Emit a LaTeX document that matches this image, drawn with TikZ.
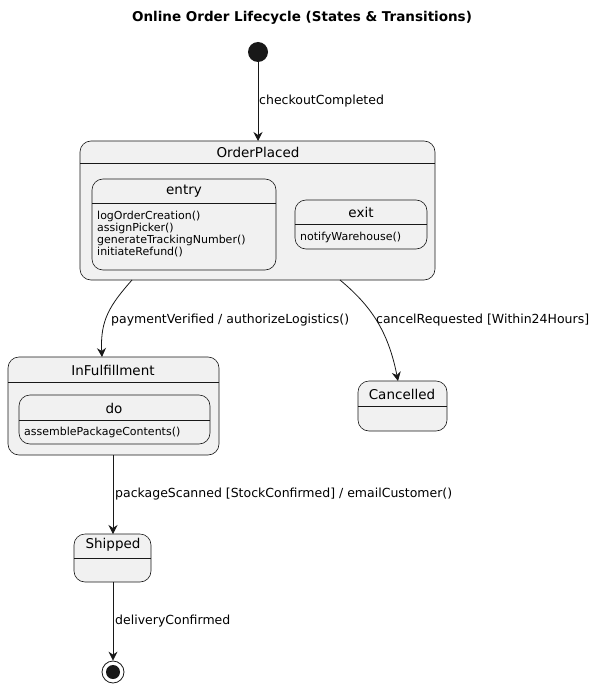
\documentclass[tikz,border=0pt]{standalone}
\usepackage{fontspec}
\setmainfont{DejaVu Sans}
\usetikzlibrary{arrows.meta}
\definecolor{bg}{HTML}{F1F1F1}
\definecolor{ln}{HTML}{181818}
\begin{document}
\begin{tikzpicture}[x=1pt,y=-1pt,
  st/.style={draw=ln,fill=bg,rounded corners=11pt,line width=0.6pt},
  sep/.style={draw=ln,line width=0.5pt},
  ttl/.style={font=\fontsize{13.5}{15}\selectfont,inner sep=0pt},
  sm/.style={font=\fontsize{11}{12.5}\selectfont,inner sep=0pt,anchor=west},
  lbl/.style={font=\fontsize{12.5}{14}\selectfont,inner sep=0pt,anchor=west},
  arr/.style={draw=ln,line width=0.8pt,-{Stealth[length=9pt,width=9pt,inset=3pt]}}]
\path[use as bounding box] (0,0) rectangle (605,687);
\node[font=\bfseries\fontsize{13.5}{15}\selectfont] (title) at (302,18) {Online Order Lifecycle (States \& Transitions)};
\node[circle,fill=ln,minimum size=20pt,inner sep=0pt] (start) at (258,52) {};
% OrderPlaced
\draw[st] (80,141) rectangle (435,280);
\draw[sep] (80,163) -- (435,163);
\coordinate (opT) at (258,141);
\node[ttl] (op) at (258,152) {OrderPlaced};
\draw[st] (92,179) rectangle (276,270);
\draw[sep] (92,203) -- (276,203);
\node[ttl] (entry) at (184,191) {entry};
\node[sm] (e1) at (97,216) {logOrderCreation()};
\node[sm] (e2) at (97,228) {assignPicker()};
\node[sm] (e3) at (97,240) {generateTrackingNumber()};
\node[sm] (e4) at (97,252) {initiateRefund()};
\draw[st] (295,200) rectangle (427,249);
\draw[sep] (295,224) -- (427,224);
\node[ttl] (exit) at (361,212) {exit};
\node[sm] (x1) at (300,237) {notifyWarehouse()};
% InFulfillment
\draw[st] (8,357) rectangle (219,455);
\draw[sep] (8,382) -- (219,382);
\node[ttl] (inf) at (113,370) {InFulfillment};
\draw[st] (19,395) rectangle (210,444);
\draw[sep] (19,420) -- (210,420);
\node[ttl] (do) at (114,408) {do};
\node[sm] (d1) at (24,432) {assemblePackageContents()};
% Cancelled
\draw[st] (358,381) rectangle (447,431);
\draw[sep] (358,406) -- (447,406);
\node[ttl] (can) at (402,394) {Cancelled};
% Shipped
\draw[st] (74,534) rectangle (151,582);
\draw[sep] (74,558) -- (151,558);
\node[ttl] (shp) at (113,545) {Shipped};
% end
\node[circle,draw=ln,line width=0.8pt,minimum size=22pt,inner sep=0pt] (end) at (113,672) {};
\node[circle,fill=ln,minimum size=14pt,inner sep=0pt] (endi) at (113,672) {};
% arrows
\draw[arr] (start) -- (opT);
\node[lbl] (l1) at (259,101) {checkoutCompleted};
\coordinate (a1) at (132,280); \coordinate (b1) at (102,357);
\draw[arr] (a1) .. controls (110,305) and (100,320) .. (b1);
\node[lbl] (l2) at (111,320) {paymentVerified / authorizeLogistics()};
\coordinate (a2) at (340,280); \coordinate (b2) at (398,381);
\draw[arr] (a2) .. controls (370,305) and (388,330) .. (b2);
\node[lbl] (l3) at (376,320) {cancelRequested [Within24Hours]};
\coordinate (a3) at (113,455); \coordinate (b3) at (113,534);
\draw[arr] (a3) -- (b3);
\node[lbl] (l4) at (115,494) {packageScanned [StockConfirmed] / emailCustomer()};
\coordinate (a4) at (113,582);
\draw[arr] (a4) -- (end);
\node[lbl] (l5) at (115,621) {deliveryConfirmed};
\end{tikzpicture}
\end{document}
